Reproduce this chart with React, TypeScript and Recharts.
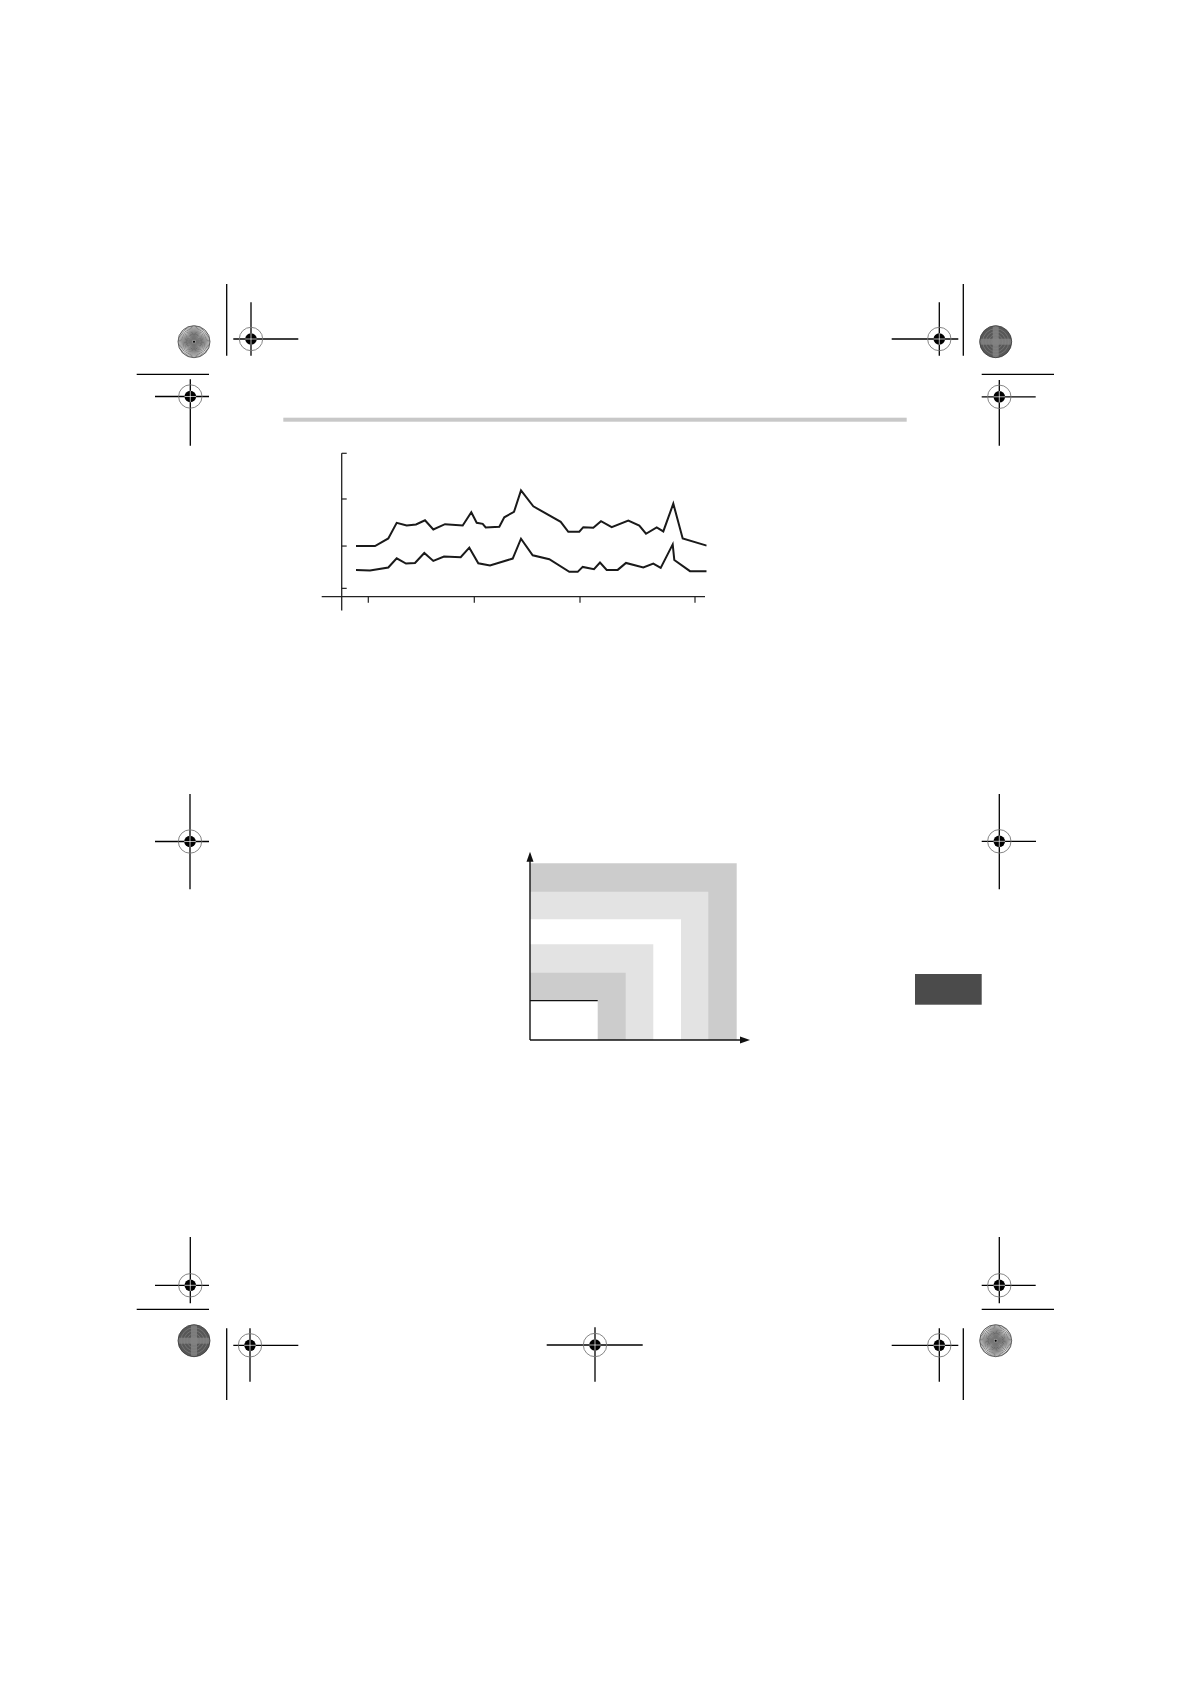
import React from 'react';
import { LineChart, Line, XAxis, YAxis, ReferenceLine, ReferenceArea, ComposedChart } from 'recharts';

// ---------- Line chart data (x: position along time axis, y: value) ----------
const upperX = [14.3, 33.3, 46.6, 55.0, 65.0, 74.3, 83.3, 91.6, 103.3, 121.0, 129.6, 135.0, 141.0, 144.0, 157.6, 162.6, 172.3, 179.3, 191.6, 219.0, 226.6, 237.6, 241.6, 251.6, 259.3, 270.0, 286.6, 297.6, 304.3, 315.0, 321.6, 331.6, 341.0, 365.0];
const upperY = [51.0, 51.0, 58.7, 74.4, 71.7, 72.7, 77.0, 67.7, 73.0, 71.7, 85.0, 74.4, 73.4, 69.7, 70.4, 80.0, 85.4, 107.0, 91.0, 75.4, 65.4, 65.4, 70.0, 69.4, 76.0, 70.0, 76.7, 71.7, 63.4, 69.7, 65.7, 93.7, 58.7, 51.4];
const lowerX = [14.3, 28.3, 46.6, 55.0, 64.3, 73.3, 82.6, 91.6, 102.3, 119.0, 127.6, 136.6, 148.3, 171.0, 179.3, 191.0, 207.6, 227.6, 236.0, 241.0, 252.3, 258.3, 265.0, 276.0, 284.3, 301.6, 311.6, 319.0, 331.0, 332.6, 348.3, 365.0];
const lowerY = [27.0, 26.4, 29.4, 38.7, 33.4, 34.0, 44.0, 36.0, 40.4, 39.7, 49.4, 33.7, 31.4, 38.4, 58.4, 41.7, 37.7, 25.0, 25.0, 30.0, 27.7, 34.4, 27.0, 27.0, 34.0, 29.4, 33.4, 29.0, 52.7, 37.0, 25.7, 25.7];
const xTicks = [26.6, 132.6, 238.3, 353.3];
const yTicks = [8.4, 51.0, 98.4, 144.4];

// ---------- Nested area chart data ----------
const areaWidths = [206.7, 178.3, 151.0, 123.3, 95.7, 67.7];
const areaHeights = [176.7, 148.3, 120.7, 95.7, 67.3, 39.3];
const areaFills = ['#cccccc', '#e3e3e3', '#ffffff', '#e3e3e3', '#cccccc', '#ffffff'];

const upperData = upperX.map((x, i) => ({ x, y: upperY[i] }));
const lowerData = lowerX.map((x, i) => ({ x, y: lowerY[i] }));

// ---------- Page decoration (registration marks) ----------
type Target = { cx: number; cy: number; h: [number, number]; v: [number, number] };
const targets: Target[] = [
  { cx: 251, cy: 339, h: [233.3, 298.3], v: [302.3, 355.7] },
  { cx: 190.3, cy: 396.5, h: [155, 209], v: [379.3, 445.7] },
  { cx: 939.3, cy: 339, h: [891.7, 958.3], v: [302.3, 355.7] },
  { cx: 999.3, cy: 396.8, h: [981.7, 1035.7], v: [380, 445.7] },
  { cx: 190, cy: 841.5, h: [155, 209], v: [794, 889.3] },
  { cx: 999.3, cy: 841.3, h: [981.7, 1036], v: [794, 889.3] },
  { cx: 190.3, cy: 1285.3, h: [155, 209], v: [1237, 1303.3] },
  { cx: 250, cy: 1345.3, h: [233.3, 298.3], v: [1328.3, 1381.7] },
  { cx: 999.3, cy: 1285.3, h: [981.7, 1035.7], v: [1237, 1303.3] },
  { cx: 939.3, cy: 1345.3, h: [891.7, 958.3], v: [1328.3, 1381.7] },
  { cx: 595, cy: 1345, h: [546.7, 642.7], v: [1327.3, 1381.7] },
];
const plainLines: [number, number, number, number][] = [
  [226.7, 284, 226.7, 355.7],
  [136.7, 374.3, 209, 374.3],
  [963.3, 284, 963.3, 355.7],
  [981.7, 374.3, 1054, 374.3],
  [136.7, 1309.3, 209, 1309.3],
  [226.7, 1328.3, 226.7, 1400],
  [981.7, 1309.3, 1054, 1309.3],
  [963.3, 1328.3, 963.3, 1400],
];

function TargetMark({ t }: { t: Target }) {
  return (
    <g>
      <line x1={t.h[0]} y1={t.cy} x2={t.h[1]} y2={t.cy} stroke="#000" strokeWidth={1.3} />
      <line x1={t.cx} y1={t.v[0]} x2={t.cx} y2={t.v[1]} stroke="#000" strokeWidth={1.3} />
      <circle cx={t.cx} cy={t.cy} r={11.7} fill="none" stroke="#777" strokeWidth={0.9} />
      <circle cx={t.cx} cy={t.cy} r={5.8} fill="#000" />
      <line x1={t.cx - 5.8} y1={t.cy} x2={t.cx + 5.8} y2={t.cy} stroke="#fff" strokeWidth={0.7} />
      <line x1={t.cx} y1={t.cy - 5.8} x2={t.cx} y2={t.cy + 5.8} stroke="#fff" strokeWidth={0.7} />
    </g>
  );
}

function LightRosette({ cx, cy }: { cx: number; cy: number }) {
  const rays = [];
  for (let i = 0; i < 72; i++) {
    const a = (i * Math.PI * 2) / 72;
    rays.push(
      <line key={i} x1={cx + 2 * Math.cos(a)} y1={cy + 2 * Math.sin(a)} x2={cx + 16 * Math.cos(a)} y2={cy + 16 * Math.sin(a)} stroke="#222" strokeWidth={0.55} />
    );
  }
  return (
    <g>
      <circle cx={cx} cy={cy} r={16} fill="#fff" />
      {rays}
      <circle cx={cx} cy={cy} r={7} fill="url(#rosGrad)" />
      <circle cx={cx} cy={cy} r={16} fill="none" stroke="#444" strokeWidth={0.8} />
      <circle cx={cx} cy={cy} r={1} fill="#000" />
    </g>
  );
}

function DarkRosette({ cx, cy }: { cx: number; cy: number }) {
  return (
    <g>
      <circle cx={cx} cy={cy} r={16} fill="#575757" />
      {[4, 7, 10, 13].map((r) => (
        <circle key={r} cx={cx} cy={cy} r={r} fill="none" stroke="#7a7a7a" strokeWidth={0.8} />
      ))}
      <rect x={cx - 3} y={cy - 16} width={6} height={32} fill="#858585" opacity={0.8} />
      <rect x={cx - 16} y={cy - 3} width={32} height={6} fill="#858585" opacity={0.8} />
      <circle cx={cx} cy={cy} r={16} fill="none" stroke="#3a3a3a" strokeWidth={0.8} />
    </g>
  );
}

function ArrowLine(props: any) {
  const { x1, y1, x2, y2 } = props;
  const dx = x2 - x1;
  const dy = y2 - y1;
  const len = Math.sqrt(dx * dx + dy * dy) || 1;
  const ux = dx / len;
  const uy = dy / len;
  const L = 10;
  const W = 3.5;
  const bx = x2 - ux * L;
  const by = y2 - uy * L;
  const pts = `${x2},${y2} ${bx - uy * W},${by + ux * W} ${bx + uy * W},${by - ux * W}`;
  return (
    <g>
      <line x1={x1} y1={y1} x2={x2 - ux * (L - 2)} y2={y2 - uy * (L - 2)} stroke="#111" strokeWidth={1.4} />
      <polygon points={pts} fill="#111" />
    </g>
  );
}

const NoLabel = () => <g />;

export default function App() {
  return (
    <div style={{ position: 'absolute', left: 0, top: 0, width: 1190, height: 1684, background: '#fff', fontFamily: 'DejaVu Sans, sans-serif' }}>
      <svg width={1190} height={1684} style={{ position: 'absolute', left: 0, top: 0 }}>
        <defs>
          <radialGradient id="rosGrad">
            <stop offset="0%" stopColor="#777" />
            <stop offset="100%" stopColor="#bbb" stopOpacity={0.2} />
          </radialGradient>
        </defs>
        {plainLines.map((l, i) => (
          <line key={i} x1={l[0]} y1={l[1]} x2={l[2]} y2={l[3]} stroke="#000" strokeWidth={1.3} />
        ))}
        {targets.map((t, i) => (
          <TargetMark key={i} t={t} />
        ))}
        <LightRosette cx={194} cy={341.7} />
        <DarkRosette cx={995.7} cy={341.7} />
        <DarkRosette cx={194} cy={1340.7} />
        <LightRosette cx={995.7} cy={1340.7} />
        <rect x={283.3} y={417.7} width={623.4} height={4} fill="#c8c8c8" />
        <rect x={915} y={974} width={66.7} height={30.7} fill="#4b4b4b" />
      </svg>

      <div style={{ position: 'absolute', left: 300, top: 440 }}>
        <LineChart width={420} height={180} margin={{ top: 13.3, left: 41.7, right: 13.3, bottom: 22.3 }}>
          <XAxis type="number" dataKey="x" domain={[0, 365]} allowDataOverflow ticks={xTicks} tick={NoLabel} axisLine={false} tickLine={{ stroke: '#222', strokeWidth: 1.2 }} tickSize={6} height={1} />
          <YAxis type="number" dataKey="y" domain={[0, 144.4]} allowDataOverflow ticks={yTicks} tick={NoLabel} axisLine={false} tickLine={{ stroke: '#222', strokeWidth: 1.2 }} tickSize={5} mirror width={1} />
          <ReferenceLine segment={[{ x: 0, y: -14 }, { x: 0, y: 144.4 }]} stroke="#222" strokeWidth={1.3} ifOverflow="visible" />
          <ReferenceLine segment={[{ x: -20, y: 0 }, { x: 363.3, y: 0 }]} stroke="#222" strokeWidth={1.3} ifOverflow="visible" />
          <Line data={upperData} dataKey="y" stroke="#1a1a1a" strokeWidth={2} dot={false} isAnimationActive={false} />
          <Line data={lowerData} dataKey="y" stroke="#1a1a1a" strokeWidth={2} dot={false} isAnimationActive={false} />
        </LineChart>
      </div>

      <div style={{ position: 'absolute', left: 500, top: 830 }}>
        <ComposedChart width={280} height={230} margin={{ top: 21.7, left: 30, right: 30, bottom: 20 }}>
          <XAxis type="number" dataKey="x" domain={[0, 220]} allowDataOverflow hide />
          <YAxis type="number" dataKey="y" domain={[0, 188.3]} allowDataOverflow hide />
          {areaWidths.map((w, i) => (
            <ReferenceArea key={i} x1={0} x2={w} y1={0} y2={areaHeights[i]} fill={areaFills[i]} fillOpacity={1} stroke="none" ifOverflow="visible" />
          ))}
          <ReferenceLine segment={[{ x: 0, y: areaHeights[5] }, { x: areaWidths[5], y: areaHeights[5] }]} stroke="#111" strokeWidth={1.3} ifOverflow="visible" />
          <ReferenceLine segment={[{ x: 0, y: 0 }, { x: 0, y: 188.3 }]} ifOverflow="visible" shape={ArrowLine} />
          <ReferenceLine segment={[{ x: 0, y: 0 }, { x: 220, y: 0 }]} ifOverflow="visible" shape={ArrowLine} />
        </ComposedChart>
      </div>
    </div>
  );
}
